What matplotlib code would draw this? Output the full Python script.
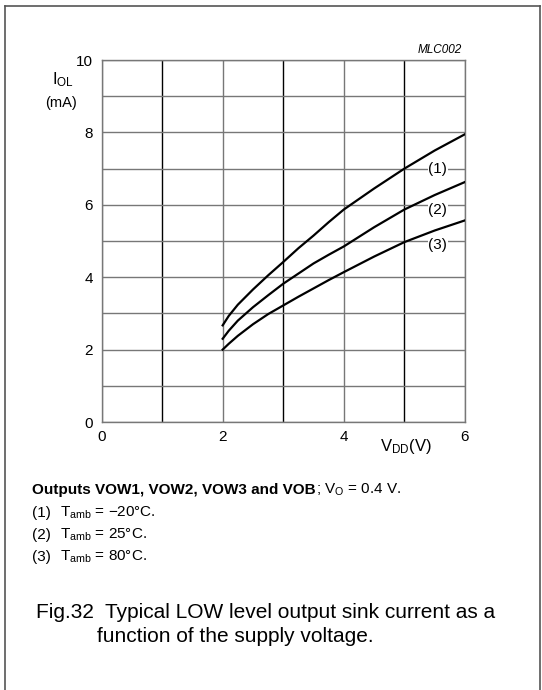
import matplotlib
matplotlib.use("Agg")
import matplotlib.pyplot as plt

plt.rcParams['font.family'] = ['Liberation Sans', 'DejaVu Sans']
plt.rcParams['mathtext.fontset'] = 'custom'
plt.rcParams['mathtext.rm'] = 'Liberation Sans'
plt.rcParams['mathtext.it'] = 'Liberation Sans:italic'
plt.rcParams['mathtext.bf'] = 'Liberation Sans:bold'

# supply voltage (V) and sink current (mA)
vdd = [2.0, 2.1, 2.25, 2.5, 2.75, 3.0, 3.25, 3.5, 3.75, 4.0, 4.5, 5.0, 5.5, 6.0]
iol_m20 = [2.67, 2.93, 3.24, 3.66, 4.05, 4.42, 4.80, 5.15, 5.52, 5.87, 6.45, 7.0, 7.5, 7.95]
iol_25 = [2.30, 2.52, 2.80, 3.17, 3.50, 3.82, 4.10, 4.38, 4.62, 4.85, 5.38, 5.87, 6.27, 6.63]
iol_80 = [2.0, 2.16, 2.38, 2.70, 2.98, 3.22, 3.46, 3.69, 3.92, 4.14, 4.57, 4.97, 5.29, 5.57]
curve_labels = ['(1)', '(2)', '(3)']
label_y = [7.0, 5.86, 4.88]

fig = plt.figure(figsize=(5.42, 6.90), dpi=100)
ax = fig.add_axes([101.5 / 542, 1 - 422 / 690, 363.5 / 542, 362 / 690])

ax.set_xlim(0, 6)
ax.set_ylim(0, 10)
ax.set_xticks([0, 2, 4, 6])
ax.set_yticks([0, 2, 4, 6, 8, 10])
ax.tick_params(length=0, labelsize=11)
ax.tick_params(axis='x', pad=6)
ax.tick_params(axis='y', pad=6)

# grid
for x in range(7):
    ax.axvline(x, color='#777777' if x % 2 == 0 else 'black', lw=1.0, zorder=1)
for y in range(11):
    ax.axhline(y, color='#777777', lw=1.0, zorder=1)
for s in ax.spines.values():
    s.set_color('#777777')
    s.set_linewidth(1.0)

for ys in (iol_m20, iol_25, iol_80):
    ax.plot(vdd, ys, color='black', lw=1.6, zorder=3, solid_joinstyle='round')

for lab, yy in zip(curve_labels, label_y):
    ax.text(5.55, yy, lab, fontsize=11, ha='center', va='center', zorder=4,
            bbox=dict(facecolor='white', edgecolor='none', pad=0.5))

fig.text(462 / 542, 1 - 50 / 690, 'MLC002', fontsize=8.5, style='italic', ha='right', va='center')
fig.text(63 / 542, 1 - 80 / 690, r'I$_{\rm OL}$', fontsize=12, ha='center', va='center')
fig.text(61 / 542, 1 - 103 / 690, '(mA)', fontsize=10.5, ha='center', va='center')
fig.text(406 / 542, 1 - 446 / 690, r'V$_{\rm DD}$(V)', fontsize=12, ha='center', va='center')

# notes below the chart
fs = 11
renderer = fig.canvas.get_renderer()
t_bold = fig.text(32 / 542, 1 - 490 / 690, 'Outputs VOW1, VOW2, VOW3 and VOB', fontsize=fs,
                  fontweight='bold', ha='left', va='center')
bb = t_bold.get_window_extent(renderer)
fig.text(bb.x1 / fig.bbox.width, 1 - 490 / 690, r'; V$_{\rm O}$ = 0.4 V.', fontsize=fs,
         ha='left', va='center')

notes = [r'T$_{\rm amb}$ = −20°C.', r'T$_{\rm amb}$ = 25°C.', r'T$_{\rm amb}$ = 80°C.']
for i, n in enumerate(notes):
    yy = 1 - (513 + 22 * i) / 690
    fig.text(32 / 542, yy, '(%d)' % (i + 1), fontsize=fs, ha='left', va='center')
    fig.text(60 / 542, yy, n, fontsize=fs, ha='left', va='center')

fig.text(36 / 542, 1 - 612 / 690, 'Fig.32  Typical LOW level output sink current as a',
         fontsize=15, ha='left', va='center')
fig.text(97 / 542, 1 - 636 / 690, 'function of the supply voltage.',
         fontsize=15, ha='left', va='center')

# page frame
fig.add_artist(plt.Line2D([5 / 542, 5 / 542], [0, 1 - 6 / 690], color='#555555', lw=1.2))
fig.add_artist(plt.Line2D([5 / 542, 540 / 542], [1 - 6 / 690, 1 - 6 / 690], color='#555555', lw=1.2))
fig.add_artist(plt.Line2D([540 / 542, 540 / 542], [0, 1 - 6 / 690], color='#555555', lw=1.2))

fig.savefig('out.png', dpi=100)
